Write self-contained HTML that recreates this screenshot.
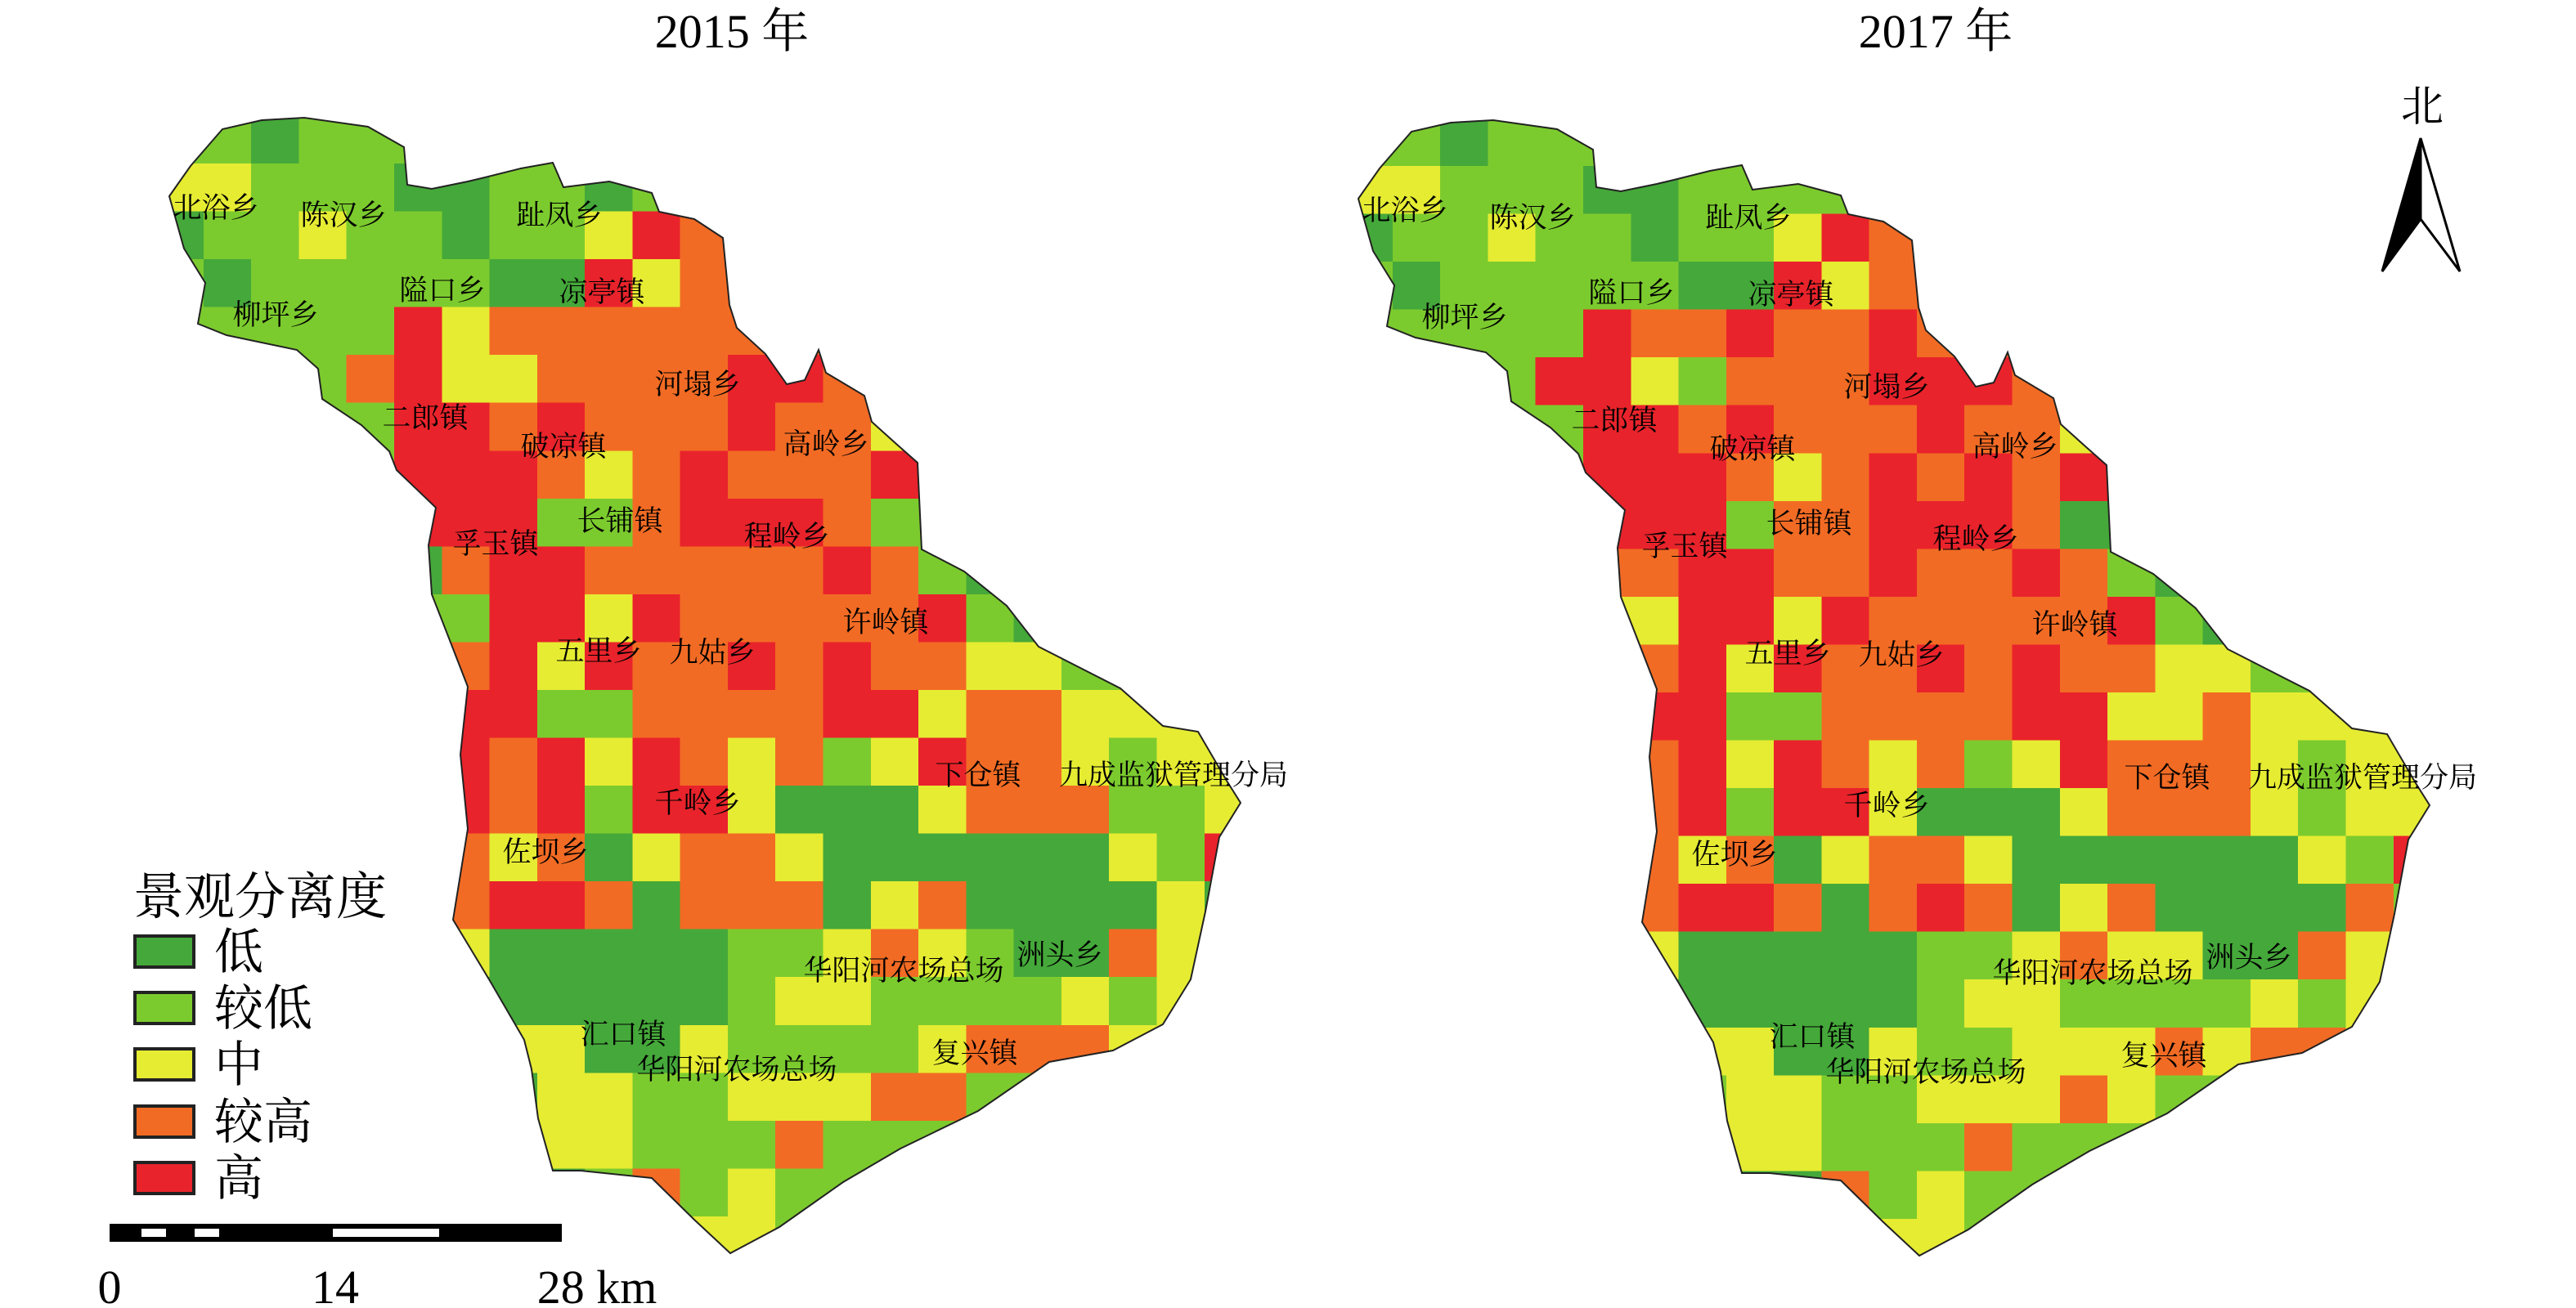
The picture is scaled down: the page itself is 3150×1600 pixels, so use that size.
<!DOCTYPE html>
<html><head><meta charset="utf-8"><style>
html,body{margin:0;padding:0;background:#fff;}
svg{display:block;}
text{font-family:"Liberation Serif","Noto Serif CJK SC","Noto Sans CJK SC",serif;fill:#000;}
</style></head><body>
<svg id="s" width="3150" height="1600" viewBox="0 0 3150 1600" xmlns="http://www.w3.org/2000/svg">
<defs>
<clipPath id="cl"><polygon id="pl" points="207,240 233,203 272,158 320,147 372,144 450,155 494,180 498,226 528,231 572,222 593,217 637,206 676,199 689,229 745,222 797,236 806,259 849,268 884,291 892,373 901,401 936,433 962,470 984,465 1001,428 1010,456 1057,484 1066,516 1096,543 1122,566 1127,672 1179,699 1231,741 1270,791 1370,842 1422,888 1465,895 1500,955 1517,982 1491,1024 1474,1115 1456,1198 1422,1253 1361,1285 1283,1299 1196,1359 1101,1405 1031,1446 953,1501 893,1533 849,1492 797,1441 710,1432 676,1432 658,1368 650,1308 641,1272 598,1198 554,1125 572,1014 563,923 572,840 546,773 528,727 524,667 533,621 485,575 476,552 442,520 394,488 389,451 363,428 277,410 242,396 251,346 225,304"/></clipPath>
<clipPath id="cr"><polygon transform="translate(1454,3)" points="207,240 233,203 272,158 320,147 372,144 450,155 494,180 498,226 528,231 572,222 593,217 637,206 676,199 689,229 745,222 797,236 806,259 849,268 884,291 892,373 901,401 936,433 962,470 984,465 1001,428 1010,456 1057,484 1066,516 1096,543 1122,566 1127,672 1179,699 1231,741 1270,791 1370,842 1422,888 1465,895 1500,955 1517,982 1491,1024 1474,1115 1456,1198 1422,1253 1361,1285 1283,1299 1196,1359 1101,1405 1031,1446 953,1501 893,1533 849,1492 797,1441 710,1432 676,1432 658,1368 650,1308 641,1272 598,1198 554,1125 572,1014 563,923 572,840 546,773 528,727 524,667 533,621 485,575 476,552 442,520 394,488 389,451 363,428 277,410 242,396 251,346 225,304"/></clipPath>
</defs>
<g id="gl" clip-path="url(#cl)" shape-rendering="crispEdges"></g>
<g id="gr" clip-path="url(#cr)" shape-rendering="crispEdges"></g>
<g id="ol" fill="none" stroke="#222" stroke-width="2"></g>

<text x="895" y="58" font-size="58" text-anchor="middle">2015 年</text>
<text x="2367" y="58" font-size="58" text-anchor="middle">2017 年</text>

<g id="labels" font-size="35" text-anchor="middle"></g>

<text x="163" y="1118" font-size="62">景观分离度</text>
<g stroke="#222" stroke-width="4">
<rect x="165" y="1145" width="72" height="38" fill="#45a83a"/>
<rect x="165" y="1214" width="72" height="38" fill="#7ccb2e"/>
<rect x="165" y="1283" width="72" height="38" fill="#e6ec32"/>
<rect x="165" y="1353" width="72" height="38" fill="#f26b24"/>
<rect x="165" y="1422" width="72" height="38" fill="#e9232b"/>
</g>
<g font-size="60">
<text x="262" y="1185">低</text>
<text x="262" y="1254">较低</text>
<text x="262" y="1323">中</text>
<text x="262" y="1393">较高</text>
<text x="262" y="1462">高</text>
</g>

<rect x="134" y="1497" width="553" height="22" fill="#000"/>
<rect x="173" y="1503" width="30" height="10" fill="#fff"/>
<rect x="238" y="1503" width="30" height="10" fill="#fff"/>
<rect x="407" y="1503" width="130" height="10" fill="#fff"/>
<g font-size="58" text-anchor="middle">
<text x="134" y="1594">0</text>
<text x="410" y="1594">14</text>
<text x="730" y="1594">28 km</text>
</g>

<text x="2962" y="148" font-size="52" text-anchor="middle">北</text>
<polygon points="2960,169 2913,332 2960,268" fill="#000" stroke="#000" stroke-width="3"/>
<polygon points="2960,169 3008,332 2960,268" fill="#fff" stroke="#000" stroke-width="3"/>
</svg>
<script>
var C={G:"#45a83a",L:"#7ccb2e",Y:"#e6ec32",O:"#f26b24",R:"#e9232b"};
var left=[
"LLGLLLL................",
"YYLLLGGLLGLL...........",
"GLLYLLGLLYROO..........",
"LGLLLLLGGRYOO..........",
"LLLLLRYOOOOOOO.........",
"LLLLORYYOOOORROO.......",
"LLLLLRROROOOROOYY......",
"LLLLLRRROYOROOORR......",
"LLLLLRRRLLORRROLLL.....",
"LLLLLGORROOOOOROLGG....",
"LLLLLLLRRYROOOOORLGG...",
"OOOOOOORYROOROROOYYLL..",
"RRRRRRRRLLOOOORRYOOYYY.",
"RRRRRRRORYROYOLYROOYLYY",
"RRRRRRRORLRRYGGGYOOOLLY",
"OOOOOOOYOGYOOYGGGGGGYLR",
"OOOOOOORROGOOOGYOGGGGYG",
"YYYYYYYGGGGGLLYOYLGGOYY",
"GGGGGGGGGGGGLYYLLLLYLYY",
"YYYYYYYYYGGYLLLLYOOOYYY",
"GGGGGGGGYYLLYYYOOLLLLLL",
"LLLLLLLLYYLLLOLLLLLLLLL",
"YYYYYYYYGLOLYLLLLLLLLLL",
"YYYYYYYYYYYYYLLLLLLLLLL"];
var right=[
"LLGLLLL................",
"YYLLLGGLLLLL...........",
"GLLYLLGLLYROO..........",
"LGLLLLLGGRYOO..........",
"LLLLLROOROOROO.........",
"LLLLRRYLOOORRROO.......",
"LLLLLRROROOOROOYY......",
"LLLLLRRROYORORORR......",
"LLLLLRRRLOORRROGGG.....",
"LLLLLOORROOROOROLGG....",
"LLLLLYYRRYROOOOORLGG...",
"OOOOOOORYROOROROOYYLL..",
"RRRRRRRRLLOOOORRYYOYYY.",
"RRRRRRORYROYOLYROOOYLYY",
"RRRRRRORLRRYGGGYOOOYLYY",
"OOOOOOOYOGYOOYGGGGGGYLR",
"OOOOOOORROGOROGYOGGGGOL",
"YYYYYYYGGGGGLLYOYYGGOYY",
"GGGGGGGGGGGGLYYLLLLYLYY",
"YYYYYYYYYGGYLLYYYOYOOYY",
"LLLLLLLLYYLLYYYOYLLLLLL",
"YYYYYYYYYYLLLOLLLLLLLLL",
"YYYYYYYYGGOLYLLLLLLLLLL",
"YYYYYYYYYYYYYLLLLLLLLLL"];
var NS="http://www.w3.org/2000/svg";
function draw(g,rows,dx,dy){
 var el=document.getElementById(g);
 for(var r=0;r<rows.length;r++)for(var c=0;c<rows[r].length;c++){
  var ch=rows[r][c]; if(!C[ch])continue;
  var x=190.6+58.28*c+dx, y=141.5+58.54*r+dy;
  var e=document.createElementNS(NS,"rect");
  e.setAttribute("x",x.toFixed(1));e.setAttribute("y",y.toFixed(1));
  e.setAttribute("width","59");e.setAttribute("height","59.2");
  e.setAttribute("fill",C[ch]);el.appendChild(e);
 }
}
draw("gl",left,0,0);draw("gr",right,1454,3);
var pts=document.getElementById("pl").getAttribute("points");
var ol=document.getElementById("ol");
[[0,0],[1454,3]].forEach(function(o){
 var p=document.createElementNS(NS,"polygon");p.setAttribute("points",pts);
 p.setAttribute("transform","translate("+o[0]+","+o[1]+")");ol.appendChild(p);
});
var L=[["北浴乡",264,266],["陈汉乡",420,275],["趾凤乡",684,275],["隘口乡",541,367],["凉亭镇",736,369],["柳坪乡",337,397],["河塌乡",853,482],["二郎镇",520,523],["破凉镇",689,558],["高岭乡",1010,555],["长铺镇",758,649],["程岭乡",962,668],["孚玉镇",606,677],["许岭镇",1083,773],["五里乡",732,808],["九姑乡",871,810],["千岭乡",853,994],["下仓镇",1196,960],["九成监狱管理分局",1435,960],["佐坝乡",667,1054],["洲头乡",1296,1180],["华阳河农场总场",1105,1199],["汇口镇",762,1277],["华阳河农场总场",901,1320],["复兴镇",1192,1300]];
var lg=document.getElementById("labels");
L.forEach(function(a){[[0,0],[1454,3]].forEach(function(o){
 var t=document.createElementNS(NS,"text");t.setAttribute("x",a[1]+o[0]);t.setAttribute("y",a[2]+o[1]);
 t.textContent=a[0];lg.appendChild(t);});});
</script>
</body></html>
